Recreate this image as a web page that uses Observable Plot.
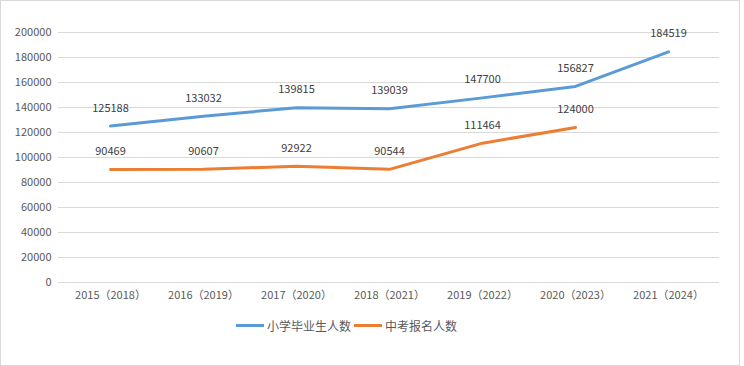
<!DOCTYPE html>
<html><head><meta charset="utf-8">
<script src="https://cdn.jsdelivr.net/npm/d3@7"></script>
<script src="https://cdn.jsdelivr.net/npm/@observablehq/plot@0.6"></script>
<style>
body{margin:0;background:#fff;font-family:"Noto Sans CJK SC","Microsoft YaHei",sans-serif;}
#wrap{position:relative;box-sizing:border-box;width:740px;height:366px;border:1px solid #d9d9d9;}
#legend{position:absolute;left:235px;top:316px;display:flex;align-items:center;font-size:12px;color:#595959;}
.item{display:flex;align-items:center;margin-right:3px;}
.sw{display:inline-block;width:28px;height:3px;margin-right:3px;}
</style></head>
<body><div id="wrap"><div id="chart"></div><div id="legend"></div></div>
<script>
const categories = ["2015（2018）","2016（2019）","2017（2020）","2018（2021）","2019（2022）","2020（2023）","2021（2024）"];
const seriesNames = ["小学毕业生人数","中考报名人数"];
const seriesColors = ["#5b9bd5","#ed7d31"];
const primaryGrads = [125188,133032,139815,139039,147700,156827,184519];
const examApplicants = [90469,90607,92922,90544,111464,124000,null];
const yTicks = [0,20000,40000,60000,80000,100000,120000,140000,160000,180000,200000];

const rows = [];
[primaryGrads, examApplicants].forEach((vals, si) => {
  vals.forEach((v, i) => { if (v != null) rows.push({cat: categories[i], value: v, series: seriesNames[si]}); });
});

const chart = Plot.plot({
  width: 738, height: 310,
  marginLeft: 57, marginRight: 20, marginTop: 31, marginBottom: 29,
  style: {fontFamily: '"Noto Sans CJK SC", sans-serif', fontSize: "11px", color: "#595959", background: "#fff"},
  x: {type: "band", domain: categories, label: null, tickSize: 0, tickPadding: 9},
  y: {domain: [0, 200000], ticks: yTicks, label: null, tickSize: 0, tickPadding: 7, tickFormat: d => String(d)},
  color: {domain: seriesNames, range: seriesColors},
  marks: [
    Plot.gridY(yTicks, {stroke: "#d9d9d9", strokeOpacity: 1}),
    Plot.line(rows, {x: "cat", y: "value", z: "series", stroke: "series", strokeWidth: 3}),
    Plot.text(rows, {x: "cat", y: "value", text: d => String(d.value), dy: -18, fill: "#404040", fontSize: 11})
  ]
});
document.getElementById("chart").appendChild(chart);

const lg = document.getElementById("legend");
seriesNames.forEach((n, i) => {
  const it = document.createElement("span"); it.className = "item";
  it.innerHTML = `<span class="sw" style="background:${seriesColors[i]}"></span>${n}`;
  lg.appendChild(it);
});
</script></body></html>
